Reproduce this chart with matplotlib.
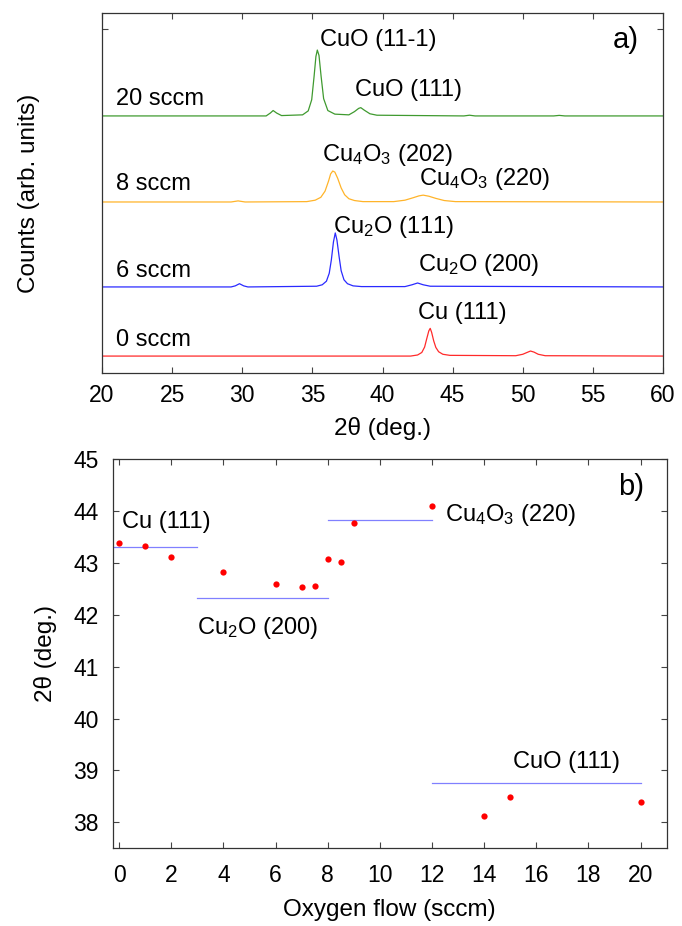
import numpy as np
import matplotlib
matplotlib.use('Agg')
import matplotlib.pyplot as plt

plt.rcParams['font.family'] = ['Liberation Sans', 'DejaVu Sans']

# panel a) XRD patterns, counts relative to each trace baseline (arb. units)
tt_0 = [20, 42.0, 42.5, 42.8, 43.0, 43.15, 43.3, 43.4, 43.5, 43.65, 43.8, 44.0, 44.3, 44.8,
        49.5, 50.0, 50.3, 50.55, 50.8, 51.1, 51.6, 60]
cnt_0 = [0, 0, 0.3, 1.0, 2.5, 4.8, 7.0, 7.7, 6.6, 4.2, 2.4, 1.2, 0.5, 0.2,
         0.1, 0.5, 1.0, 1.4, 1.1, 0.5, 0.1, 0]

tt_6 = [20, 29.2, 29.5, 29.8, 30.1, 30.4, 35.3, 35.7, 36.0, 36.2, 36.35, 36.5, 36.63, 36.75,
        36.9, 37.05, 37.25, 37.5, 37.9, 38.5, 41.6, 42.1, 42.5, 42.9, 43.4, 60]
cnt_6 = [0, 0, 0.3, 0.9, 0.3, 0, 0.2, 0.6, 1.6, 3.8, 7.5, 12.5, 15.0, 13.0,
         8.5, 4.5, 2.0, 0.9, 0.3, 0.1, 0.1, 0.6, 1.1, 0.6, 0.2, 0]

tt_8 = [20, 29.2, 29.7, 30.2, 34.6, 35.2, 35.6, 35.9, 36.15, 36.3, 36.45, 36.6, 36.8, 37.05,
        37.3, 37.6, 38.0, 38.6, 40.8, 41.6, 42.2, 42.6, 42.9, 43.3, 43.8, 44.4, 45.2, 60]
cnt_8 = [0, 0, 0.3, 0, 0.1, 0.5, 1.3, 3.0, 5.8, 7.8, 8.6, 8.3, 6.6, 3.9,
         2.0, 0.9, 0.4, 0.1, 0.1, 0.5, 1.2, 1.7, 1.9, 1.6, 1.0, 0.4, 0.1, 0]

tt_20 = [20, 31.7, 32.0, 32.2, 32.45, 32.8, 34.3, 34.7, 34.95, 35.12, 35.25, 35.35, 35.47, 35.62,
         35.8, 36.1, 36.6, 37.6, 38.0, 38.3, 38.45, 38.7, 39.1, 39.6, 45.8, 46.2, 46.6,
         52.2, 52.6, 53, 60]
cnt_20 = [0, 0, 0.8, 1.5, 0.8, 0.1, 0.3, 1.4, 4.5, 11.0, 16.5, 18.3, 16.8, 11.0,
          4.8, 1.5, 0.5, 0.3, 1.2, 2.1, 2.3, 1.6, 0.6, 0.2, 0, 0.2, 0,
          0, 0.15, 0, 0]

flows_a = ['0 sccm', '6 sccm', '8 sccm', '20 sccm']
offsets = [4.7, 23.9, 47.5, 71.4]
colors_a = ['#ff2a2a', '#2a2aff', '#ffb42a', '#3f9a2f']

# panel b) peak position vs oxygen flow
flow = [0, 1, 2, 4, 6, 7, 7.5, 8, 8.5, 9, 12, 14, 15, 20]
peak_pos = [43.39, 43.32, 43.11, 42.82, 42.60, 42.54, 42.55, 43.07, 43.02, 43.77, 44.10,
            38.12, 38.49, 38.40]

# reference positions: (start flow, end flow, 2theta)
ref_start = [-0.25, 3, 8, 12]
ref_end = [3, 8, 12, 20]
ref_pos = [43.30, 42.32, 43.82, 38.75]

fig = plt.figure(figsize=(6.82, 9.26), dpi=100)
ax1 = fig.add_axes([0.1496, 0.5972, 0.8226, 0.3888])
ax2 = fig.add_axes([0.1652, 0.0839, 0.8123, 0.4204])

traces = [(tt_0, cnt_0), (tt_6, cnt_6), (tt_8, cnt_8), (tt_20, cnt_20)]
for (x, y), off, c in zip(traces, offsets, colors_a):
    ax1.plot(x, np.array(y) + off, color=c, lw=0.9)

fs = 17
lab = 17.5

ax1.set_xlim(20, 60)
ax1.set_ylim(0, 100)
ax1.set_xticks(range(20, 61, 5))
ax1.set_yticks([95.6])
ax1.set_yticklabels([])
ax1.tick_params(direction='in', top=True, right=True, length=4, width=0.8,
                labelsize=16.5, pad=8, color='#444444')
ax1.set_xlabel('2θ (deg.)', fontsize=lab, labelpad=7)
ax1.set_ylabel('Counts (arb. units)', fontsize=lab, labelpad=37)

ax1.text(21.0, 76.1, flows_a[3], fontsize=fs, va='center')
ax1.text(21.0, 52.5, flows_a[2], fontsize=fs, va='center')
ax1.text(21.0, 28.4, flows_a[1], fontsize=fs, va='center')
ax1.text(21.0, 9.2, flows_a[0], fontsize=fs, va='center')
ax1.text(35.54, 92.5, 'CuO (11-1)', fontsize=fs, va='center')
ax1.text(38.04, 78.6, 'CuO (111)', fontsize=fs, va='center')
ax1.text(35.66, 60.5, r'Cu$\mathregular{_4}$O$\mathregular{_3}$ (202)', fontsize=fs, va='center')
ax1.text(42.62, 54.0, r'Cu$\mathregular{_4}$O$\mathregular{_3}$ (220)', fontsize=fs, va='center')
ax1.text(36.49, 40.6, r'Cu$\mathregular{_2}$O (111)', fontsize=fs, va='center')
ax1.text(42.55, 30.0, r'Cu$\mathregular{_2}$O (200)', fontsize=fs, va='center')
ax1.text(42.55, 16.6, 'Cu (111)', fontsize=fs, va='center')
ax1.text(0.911, 0.925, 'a)', transform=ax1.transAxes, fontsize=21, va='center')

for x0, x1, yv in zip(ref_start, ref_end, ref_pos):
    ax2.plot([x0, x1], [yv, yv], color='#8080ff', lw=0.9)
ax2.plot(flow, peak_pos, 'o', color='#ff0000', ms=4.5, mec='none')

ax2.set_xlim(-0.25, 21)
ax2.set_ylim(37.5, 45)
ax2.set_xticks(range(0, 21, 2))
ax2.set_yticks(range(38, 46))
ax2.tick_params(direction='in', top=True, right=True, length=4, width=0.8,
                labelsize=16.5, color='#444444')
ax2.tick_params(axis='x', pad=11)
ax2.tick_params(axis='y', pad=10)
ax2.set_xlabel('Oxygen flow (sccm)', fontsize=lab, labelpad=9)
ax2.set_ylabel('2θ (deg.)', fontsize=lab, labelpad=12)

ax2.text(0.1, 43.79, 'Cu (111)', fontsize=fs, va='center')
ax2.text(3.0, 41.75, r'Cu$\mathregular{_2}$O (200)', fontsize=fs, va='center')
ax2.text(12.5, 43.92, r'Cu$\mathregular{_4}$O$\mathregular{_3}$ (220)', fontsize=fs, va='center')
ax2.text(15.1, 39.17, 'CuO (111)', fontsize=fs, va='center')
ax2.text(0.912, 0.929, 'b)', transform=ax2.transAxes, fontsize=21, va='center')

for ax in (ax1, ax2):
    for s in ax.spines.values():
        s.set_linewidth(0.9)
        s.set_color('#333333')

fig.savefig('out.png', dpi=100)
